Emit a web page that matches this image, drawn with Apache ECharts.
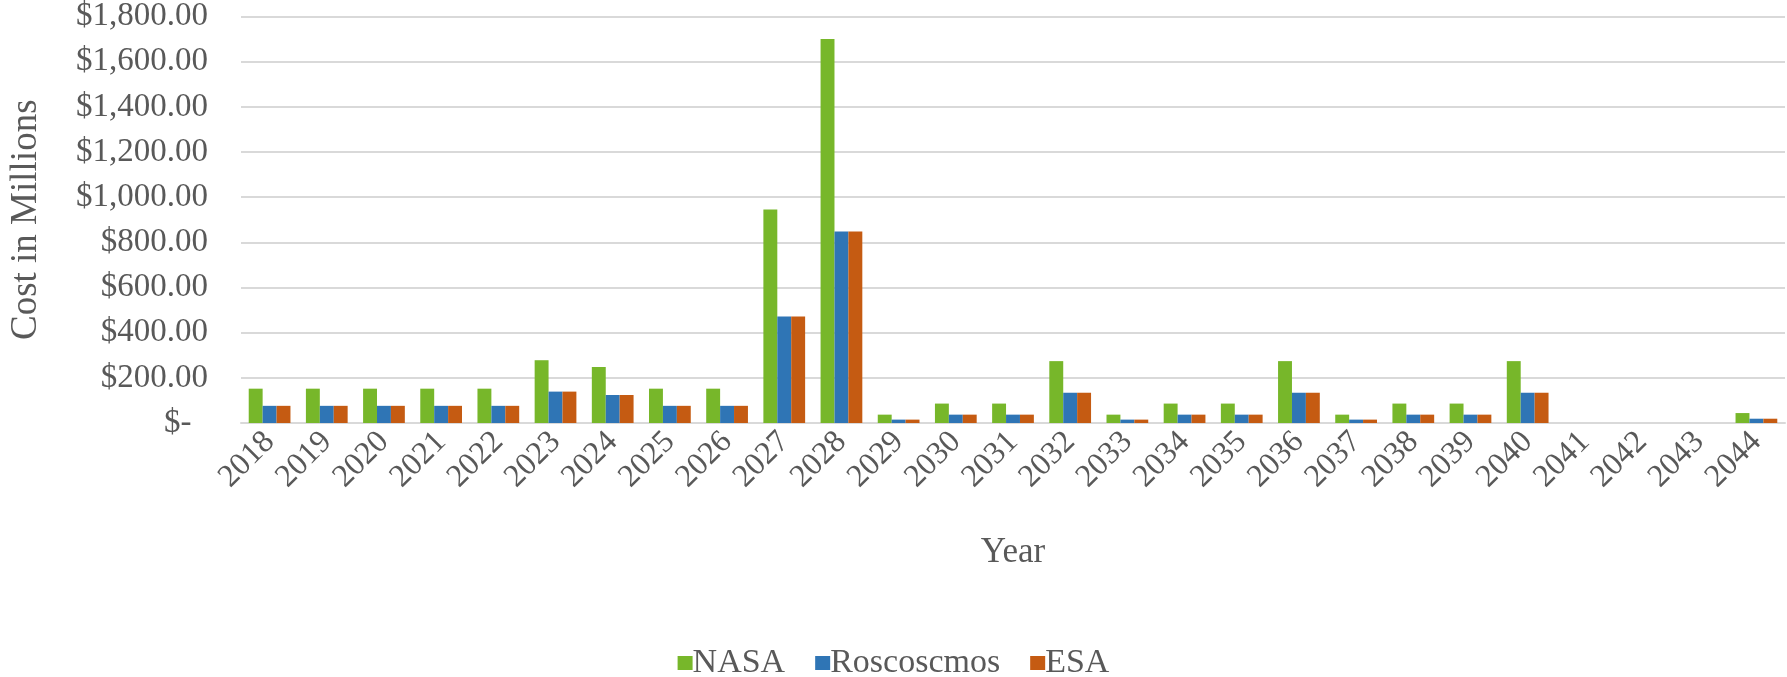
<!DOCTYPE html>
<html>
<head>
<meta charset="utf-8">
<script src="https://cdn.jsdelivr.net/npm/echarts@6/dist/echarts.min.js"></script>
<style>
html,body{margin:0;padding:0;background:#fff;}
#c{width:1787px;height:677px;}
</style>
</head>
<body>
<div id="c"></div>
<script>
const years = ['2018','2019','2020','2021','2022','2023','2024','2025','2026','2027','2028','2029','2030','2031','2032','2033','2034','2035','2036','2037','2038','2039','2040','2041','2042','2043','2044'];
const nasa = [152,152,152,152,152,278,248,152,152,945,1700,37,86,86,274,37,86,86,274,37,86,86,274,0,0,0,44];
const roscosmos = [76,76,76,76,76,139,124,76,76,472,848,15,37,37,134,15,37,37,134,15,37,37,134,0,0,0,19];
const esa = [76,76,76,76,76,139,124,76,76,472,848,15,37,37,134,15,37,37,134,15,37,37,134,0,0,0,19];
const seriesNames = ['NASA','Roscoscmos','ESA'];
const colors = ['#77B72A','#2F75B5','#C55B12'];

const font = 'Liberation Serif';
const textColor = '#595959';

function fmt(v){
  if (v === 0) return '$-  ';
  return '$' + v.toLocaleString('en-US',{minimumFractionDigits:2,maximumFractionDigits:2});
}

const chart = echarts.init(document.getElementById('c'));
chart.setOption({
  animation:false,
  color: colors,
  textStyle:{fontFamily:font},
  grid:{left:229,right:2,top:16,bottom:254,containLabel:false},
  legend:{
    data:seriesNames,
    top:641,
    left:'center',
    itemWidth:15,itemHeight:14,itemGap:30,
    icon:'rect',
    textStyle:{fontFamily:font,fontSize:34,color:textColor,padding:[0,0,0,-5]}
  },
  xAxis:{
    type:'category',
    data:years,
    name:'Year',
    nameLocation:'middle',
    nameGap:112,
    nameTextStyle:{fontFamily:font,fontSize:35,color:textColor},
    axisLine:{show:true,lineStyle:{color:'#d9d9d9',width:2}},
    axisTick:{show:false},
    axisLabel:{rotate:45,fontFamily:font,fontSize:32,color:textColor,margin:14,interval:0}
  },
  yAxis:{
    type:'value',
    min:0,max:1800,interval:200,
    name:'Cost in Millions',
    nameLocation:'middle',
    nameGap:196,
    nameTextStyle:{fontFamily:font,fontSize:37,color:textColor},
    axisLine:{show:false},
    axisTick:{show:false},
    splitLine:{lineStyle:{color:'#d9d9d9',width:2}},
    axisLabel:{fontFamily:font,fontSize:33,color:textColor,margin:33,formatter:fmt}
  },
  series:[
    {name:seriesNames[0],type:'bar',data:nasa,barGap:'0%',barCategoryGap:'27%'},
    {name:seriesNames[1],type:'bar',data:roscosmos,barGap:'0%',barCategoryGap:'27%'},
    {name:seriesNames[2],type:'bar',data:esa,barGap:'0%',barCategoryGap:'27%'}
  ]
});
</script>
</body>
</html>
